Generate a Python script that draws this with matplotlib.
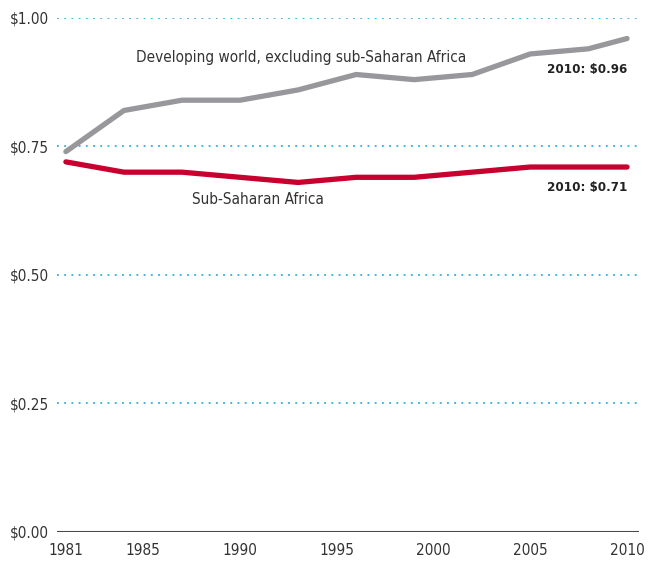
import matplotlib.pyplot as plt
from matplotlib import font_manager

# poverty line comparison, dollars a day
years = [1981, 1984, 1987, 1990, 1993, 1996, 1999, 2002, 2005, 2008, 2010]
dev_world = [0.74, 0.82, 0.84, 0.84, 0.86, 0.89, 0.88, 0.89, 0.93, 0.94, 0.96]
ssa = [0.72, 0.70, 0.70, 0.69, 0.68, 0.69, 0.69, 0.70, 0.71, 0.71, 0.71]

xticks = [1981, 1985, 1990, 1995, 2000, 2005, 2010]
yticks = [0, 0.25, 0.5, 0.75, 1.0]
ytick_labels = ['$0.00', '$0.25', '$0.50', '$0.75', '$1.00']

# condensed face if there is one
has_cond = any('Condensed' in f.fname and 'DejaVuSans' in f.fname
               for f in font_manager.fontManager.ttflist)
stretch = 'condensed' if has_cond else 'normal'
k = 1.0 if has_cond else 0.9
plt.rcParams['font.family'] = ['DejaVu Sans']
plt.rcParams['font.stretch'] = stretch

fig = plt.figure(figsize=(6.58, 5.63), dpi=100)
ax = fig.add_axes([0.0866, 0.0551, 0.884, 0.913])

for y in yticks[1:]:
    ax.axhline(y, color='#2eaee0', lw=1.3, ls=(0, (1, 3)), zorder=1)
ax.axhline(0, color='#4a4a4a', lw=1.5, zorder=2)

ax.plot(years, dev_world, color='#98989c', lw=3.8, solid_capstyle='round', zorder=3)
ax.plot(years, ssa, color='#c8002f', lw=3.8, solid_capstyle='round', zorder=3)

ax.text(1984.6, 0.924, 'Developing world, excluding sub-Saharan Africa',
        fontsize=11 * k, color='#333333', va='center', stretch=stretch)
ax.text(1987.5, 0.646, 'Sub-Saharan Africa', fontsize=11 * k, color='#333333',
        va='center', stretch=stretch)
ax.text(2010, 0.899, '2010: $0.96', fontsize=9.5 * k, fontweight='bold',
        color='#222222', ha='right', va='center', stretch=stretch)
ax.text(2010, 0.671, '2010: $0.71', fontsize=9.5 * k, fontweight='bold',
        color='#222222', ha='right', va='center', stretch=stretch)

ax.set_xlim(1980.54, 2010.6)
ax.set_ylim(0, 1.0)
ax.set_xticks(xticks)
ax.set_xticklabels([str(x) for x in xticks])
ax.set_yticks(yticks)
ax.set_yticklabels(ytick_labels)
ax.tick_params(axis='both', length=0, labelsize=11 * k, colors='#333333')
ax.tick_params(axis='x', pad=8)
ax.tick_params(axis='y', pad=6)
for lab in ax.get_xticklabels() + ax.get_yticklabels():
    lab.set_fontstretch(stretch)
for s in ax.spines.values():
    s.set_visible(False)

fig.savefig('out.png', dpi=100)
